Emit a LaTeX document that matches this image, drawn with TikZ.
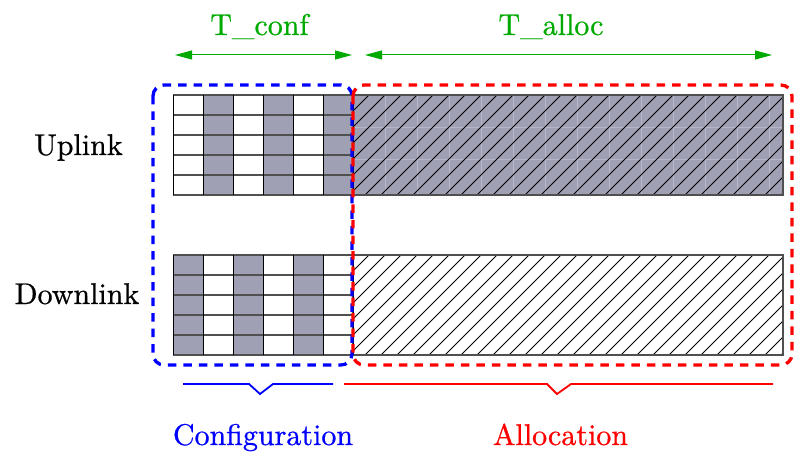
\documentclass[tikz,border=0pt]{standalone}
\usepackage{fontspec}
\newfontfamily\labelserif{lmroman10-regular.otf}[FakeBold=0.7]
\usetikzlibrary{arrows.meta}
\definecolor{cellgray}{RGB}{160,160,180}
\definecolor{tgreen}{RGB}{0,170,0}
\definecolor{gridline}{RGB}{80,80,80}
\definecolor{tileline}{RGB}{182,182,200}
\begin{document}
\begin{tikzpicture}[x=1pt,y=-1pt,
  lbl/.style={font=\labelserif\fontsize{30}{36}\selectfont, anchor=base, inner sep=0pt},
  dimarrow/.style={tgreen, line width=1pt, {Triangle[length=17pt,width=9pt]}-{Triangle[length=17pt,width=9pt]}},
  zone/.style={line width=3.3pt, dash pattern=on 8.5pt off 7pt, rounded corners=11pt},
  bracket/.style={line width=1.8pt},
  hatchline/.style={line width=0.8pt, black},
  hline/.style={gridline, line width=1.4pt},
  vline/.style={black, line width=0.9pt},
  tile/.style={tileline, line width=0.6pt}]
\useasboundingbox (0,0) rectangle (794,454);

% ---------- Uplink configuration grid ----------
\foreach \i in {1,3,5} \fill[cellgray] (173+30*\i,95) rectangle (203+30*\i,195);
\foreach \j in {0,...,5} \draw[hline] (173,95+20*\j) -- (353,95+20*\j);
\foreach \i in {0,...,6} \draw[vline] (173+30*\i,95) -- (173+30*\i,195);

% ---------- Downlink configuration grid ----------
\foreach \i in {0,2,4} \fill[cellgray] (173+30*\i,255) rectangle (203+30*\i,355);
\foreach \j in {0,...,5} \draw[hline] (173,255+20*\j) -- (353,255+20*\j);
\foreach \i in {0,...,6} \draw[vline] (173+30*\i,255) -- (173+30*\i,355);

% ---------- Uplink allocation ----------
\fill[cellgray] (353,95) rectangle (783,195);
\foreach \x in {385,417,...,781} \draw[tile] (\x,95) -- (\x,195);
\foreach \y in {127,159} \draw[tile] (353,\y) -- (783,\y);
\begin{scope}
  \clip (353,95) rectangle (783,195);
  \foreach \c in {448,464,...,976} \draw[hatchline] (\c-195,195) -- (\c-95,95);
\end{scope}
\draw[hline] (353,95) rectangle (783,195);

% ---------- Downlink allocation ----------
\begin{scope}
  \clip (353,255) rectangle (783,355);
  \foreach \c in {608,624,...,1138} \draw[hatchline] (\c-355,355) -- (\c-255,255);
\end{scope}
\draw[hline] (353,255) rectangle (783,355);
\draw[vline] (353,95) -- (353,195);
\draw[vline] (353,255) -- (353,355);

% ---------- zones ----------
\draw[zone, blue] (153,85) rectangle (352,365);
\draw[zone, red] (353,85) rectangle (792,365);

% ---------- brackets ----------
\draw[bracket, blue] (183,384) -- (249,384) -- (260,394) -- (273,384) -- (333,384);
\draw[bracket, red] (344,384) -- (547,384) -- (557,394) -- (571,384) -- (773,384);

% ---------- time arrows ----------
\coordinate (confL) at (175,55);
\coordinate (confR) at (352,55);
\coordinate (allocL) at (365,55);
\coordinate (allocR) at (772,55);
\draw[dimarrow] (confL) -- (confR);
\draw[dimarrow] (allocL) -- (allocR);

% ---------- labels ----------
\node[lbl, tgreen] (tconf) at (259.5,35) {T\_conf};
\node[lbl, tgreen] (talloc) at (551,35) {T\_alloc};
\node[lbl] (uplink) at (78.5,155) {Uplink};
\node[lbl] (downlink) at (77,304) {Downlink};
\node[lbl, blue] (config) at (263,445) {Configuration};
\node[lbl, red] (alloc) at (560.5,445) {Allocation};
\end{tikzpicture}
\end{document}
